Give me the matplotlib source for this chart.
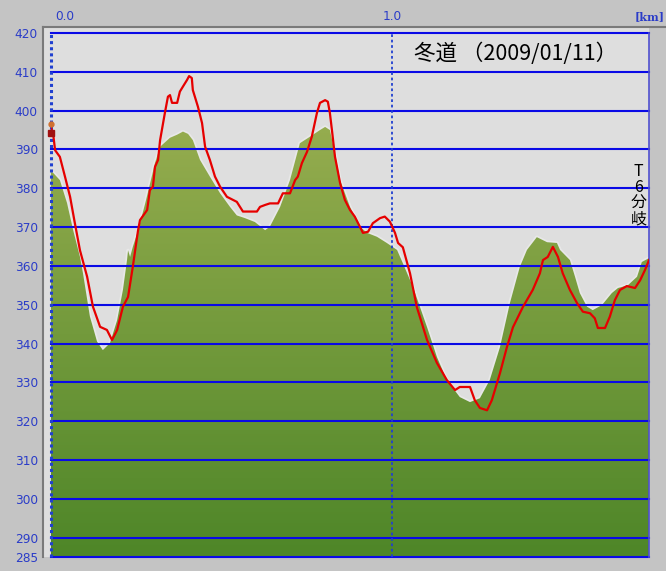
import numpy as np
import matplotlib
matplotlib.use("Agg")
import matplotlib.pyplot as plt
from matplotlib.patches import Rectangle, Polygon

plt.rcParams['font.family'] = ['Noto Sans CJK JP', 'DejaVu Sans']

# ---------------- data ----------------
# terrain profile (green)
terrain_km = [0.000, 0.006, 0.026, 0.047, 0.065, 0.085, 0.094, 0.114, 0.135, 0.152,
              0.173, 0.194, 0.211, 0.223, 0.226, 0.232, 0.240, 0.255, 0.276, 0.290,
              0.305, 0.320, 0.349, 0.370, 0.387, 0.402, 0.416, 0.437, 0.466, 0.496,
              0.525, 0.545, 0.569, 0.598, 0.628, 0.642, 0.672, 0.701, 0.730, 0.760,
              0.789, 0.804, 0.818, 0.833, 0.848, 0.877, 0.906, 0.927, 0.956, 0.985,
              1.015, 1.032, 1.062, 1.103, 1.132, 1.161, 1.199, 1.229, 1.258, 1.287,
              1.317, 1.346, 1.375, 1.396, 1.425, 1.455, 1.484, 1.493, 1.522, 1.537,
              1.551, 1.572, 1.589, 1.616, 1.645, 1.663, 1.692, 1.719, 1.733, 1.754]
terrain_m = [384.2, 384.0, 382.1, 376.2, 369.2, 362.3, 358.0, 347.0, 340.5, 338.3,
             340.1, 346.0, 353.8, 361.5, 364.0, 362.3, 364.9, 369.0, 376.0, 381.0,
             386.5, 390.7, 393.0, 393.8, 394.6, 394.0, 392.4, 387.3, 383.0, 378.7,
             375.2, 373.0, 372.3, 371.3, 369.2, 370.1, 375.2, 382.1, 391.6, 393.3,
             395.0, 395.8, 395.0, 389.0, 382.1, 375.2, 370.1, 368.5, 367.5, 365.9,
             364.1, 360.7, 354.5, 344.2, 336.5, 330.6, 326.2, 324.9, 325.9, 330.6,
             339.1, 350.4, 359.7, 364.1, 367.4, 366.1, 365.9, 364.1, 361.5, 357.2,
             353.0, 349.5, 348.6, 349.9, 353.0, 354.3, 355.0, 357.2, 361.0, 362.0]

# GPS track (red)
track_km = [0.000, 0.006, 0.012, 0.026, 0.041, 0.056, 0.070, 0.085, 0.106, 0.123,
            0.144, 0.164, 0.179, 0.194, 0.211, 0.226, 0.240, 0.255, 0.261, 0.282,
            0.290, 0.299, 0.305, 0.314, 0.320, 0.334, 0.343, 0.349, 0.355, 0.370,
            0.378, 0.387, 0.399, 0.405, 0.413, 0.416, 0.431, 0.443, 0.452, 0.466,
            0.481, 0.496, 0.516, 0.545, 0.563, 0.604, 0.613, 0.628, 0.642, 0.666,
            0.680, 0.701, 0.716, 0.724, 0.736, 0.751, 0.765, 0.780, 0.789, 0.804,
            0.812, 0.818, 0.824, 0.833, 0.848, 0.862, 0.877, 0.891, 0.906, 0.915,
            0.930, 0.944, 0.965, 0.979, 0.994, 1.009, 1.018, 1.032, 1.053, 1.073,
            1.103, 1.132, 1.161, 1.185, 1.199, 1.229, 1.243, 1.258, 1.279, 1.293,
            1.317, 1.337, 1.355, 1.384, 1.413, 1.434, 1.443, 1.457, 1.472, 1.487,
            1.501, 1.522, 1.543, 1.560, 1.581, 1.595, 1.604, 1.625, 1.639, 1.654,
            1.669, 1.689, 1.713, 1.728, 1.742, 1.754]
track_m = [395.5, 394.2, 389.8, 388.1, 383.0, 377.8, 371.0, 364.0, 357.2, 349.5,
           344.3, 343.5, 340.9, 343.5, 349.5, 352.0, 359.8, 369.0, 371.8, 374.4,
           379.5, 380.4, 385.5, 387.3, 392.4, 399.4, 403.6, 404.0, 402.0, 402.0,
           404.9, 406.2, 407.9, 408.9, 408.4, 405.3, 401.0, 396.8, 390.7, 387.3,
           383.0, 380.4, 377.8, 376.5, 374.0, 374.0, 375.2, 375.7, 376.1, 376.1,
           378.7, 378.7, 382.1, 383.0, 386.5, 389.4, 393.3, 399.4, 402.0, 402.7,
           402.3, 399.4, 395.0, 388.1, 381.3, 377.0, 374.4, 372.7, 370.1, 368.5,
           368.8, 371.0, 372.3, 372.7, 371.4, 368.5, 365.9, 364.8, 358.1, 349.4,
           340.9, 335.0, 330.6, 328.0, 328.8, 328.8, 325.4, 323.4, 322.8, 325.4,
           332.4, 339.0, 344.2, 349.4, 353.8, 358.1, 361.5, 362.3, 364.9, 362.3,
           358.1, 353.8, 350.4, 348.2, 347.8, 346.5, 344.0, 344.0, 346.9, 351.2,
           353.8, 354.8, 354.3, 356.3, 358.9, 361.5]

y_ticks = [285, 290, 300, 310, 320, 330, 340, 350, 360, 370, 380, 390, 400, 410, 420]
x_tick_labels = ["0.0", "1.0"]
unit_label = "[km]"
title_text = "冬道 （2009/01/11）"
marker_text = "T\n6\n分\n岐"

# ---------------- figure ----------------
W, H = 666, 571
fig = plt.figure(figsize=(W / 100, H / 100), dpi=100)
fig.patch.set_facecolor('#c4c4c4')

def fx(px):
    return px / W

def fy(py):
    return 1 - py / H

# light panel with dark left/top edge (background axes)
bg = fig.add_axes([0, 0, 1, 1], zorder=-10)
bg.set_xlim(0, W)
bg.set_ylim(H, 0)
bg.axis('off')
bg.add_patch(Rectangle((43, 27), 649 - 43, 557 - 27, facecolor='#dedede', edgecolor='none'))
bg.plot([43, 43], [557, 27], color='#7a7a7a', lw=1.5)
bg.plot([43, 666], [27, 27], color='#7a7a7a', lw=1.5)

ax = fig.add_axes([fx(51), fy(557), fx(649) - fx(51), fy(33) - fy(557)])
ax.set_facecolor('#dedede')
x0, x1 = 0.0, 1.754
y0, y1 = 285, 420
for s in ax.spines.values():
    s.set_visible(False)

# green gradient fill
tx = np.array(terrain_km)
ty = np.array(terrain_m)
verts = np.column_stack([np.r_[tx[0], tx, tx[-1]], np.r_[y0, ty, y0]])
poly = Polygon(verts, closed=True, facecolor='none', edgecolor='none')
ax.add_patch(poly)
ax.plot(tx, ty, color='#e8e8e8', lw=2.5, zorder=1)
n = 256
t = np.linspace(0, 1, n)[:, None]
bottom_c = np.array([78, 134, 40]) / 255
top_c = np.array([152, 174, 80]) / 255
grad = (bottom_c[None, :] * (1 - t) + top_c[None, :] * t)[:, None, :]
im = ax.imshow(grad, extent=[x0, x1, y0, 400], origin='lower', aspect='auto', zorder=2,
               interpolation='bilinear')
im.set_clip_path(poly)
ax.set_xlim(x0, x1)
ax.set_ylim(y0, y1)

# grid lines
blue = '#0a0ae6'
for yv in y_ticks:
    ax.axhline(yv, color=blue, lw=1.5, zorder=3, clip_on=False)
ax.axvline(x1, color='#5050d0', lw=1.2, zorder=3, clip_on=False)
ax.axvline(0.0, color='#2040d0', lw=2.2, ls=(0, (1, 1)), zorder=4, clip_on=False)
ax.axvline(1.0, color='#2040d0', lw=1.3, ls=(0, (1.5, 1.5)), zorder=4)

# red track
ax.plot(track_km, track_m, color='#e60000', lw=1.6, zorder=5)

# small hiker icon at start
ax.plot([0.0], [396.5], marker='o', ms=3.5, color='#d07030', zorder=6, clip_on=False)
ax.plot([0.0], [394.2], marker='s', ms=4, color='#a01010', zorder=6, clip_on=False)

# y tick labels
ax.set_yticks(y_ticks)
ax.set_yticklabels([str(v) for v in y_ticks], fontfamily='DejaVu Sans')
ax.tick_params(axis='y', length=0, pad=9.5, labelsize=8.7, labelcolor='#2a3cc8')
ax.set_xticks([])

# top labels
fig.text(fx(65), fy(17), x_tick_labels[0], ha='center', va='center', fontsize=8.7,
         color='#2a3cc8', family='DejaVu Sans')
fig.text(fx(392), fy(17), x_tick_labels[1], ha='center', va='center', fontsize=8.7,
         color='#2a3cc8', family='DejaVu Sans')
fig.text(fx(665), fy(17), unit_label, ha='right', va='center', fontsize=8,
         color='#2a3cc8', family='DejaVu Serif', fontweight='bold')

# title and side note
ax.text(1.362, 414.6, title_text, ha='center', va='center', fontsize=15.5, color='black',
        zorder=6)
ax.text(1.724, 378.2, marker_text, ha='center', va='center', fontsize=11.5, color='black',
        linespacing=0.92, zorder=6)

fig.savefig('out.png', dpi=100, facecolor=fig.get_facecolor())
